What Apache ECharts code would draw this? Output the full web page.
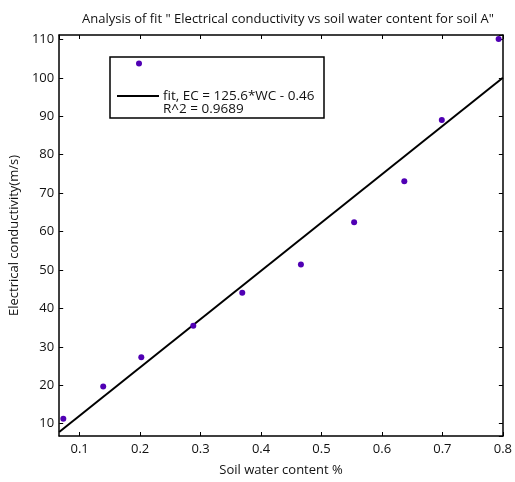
<!DOCTYPE html>
<html>
<head>
<meta charset="utf-8">
<script src="https://cdn.jsdelivr.net/npm/echarts@6/dist/echarts.min.js"></script>
<style>html,body{margin:0;padding:0;background:#fff}#c{width:515px;height:482px}</style>
</head>
<body>
<div id="c"></div>
<script>
// Data
const waterContent = [0.073, 0.139, 0.202, 0.288, 0.369, 0.466, 0.554, 0.637, 0.699, 0.793];
const conductivity = [11.3, 19.7, 27.3, 35.5, 44.1, 51.4, 62.4, 73.1, 89.0, 110.1];
const fitSlope = 125.6;
const fitIntercept = -0.46;
const xRange = [0.0662, 0.8];
const yRange = [6.8, 111.15];
const xTickLabels = ['0.1', '0.2', '0.3', '0.4', '0.5', '0.6', '0.7', '0.8'];
const yTickLabels = ['10', '20', '30', '40', '50', '60', '70', '80', '90', '100', '110'];
const titleText = 'Analysis of fit " Electrical conductivity vs soil water content for soil A"';
const legendFit = 'fit, EC = 125.6*WC - 0.46';
const legendR2 = 'R^2 = 0.9689';

const FONT = 'Open Sans';
const scatterData = waterContent.map((w, i) => [w, conductivity[i]]);
const fitData = xRange.map(x => [x, fitSlope * x + fitIntercept]);

function fmtX(v) {
  const s = (Math.round(v * 10) / 10).toFixed(1);
  return (Math.abs(v * 10 - Math.round(v * 10)) < 1e-6 && xTickLabels.includes(s)) ? s : '';
}
function fmtY(v) {
  const s = String(Math.round(v));
  return (Math.abs(v - Math.round(v)) < 1e-6 && yTickLabels.includes(s)) ? s : '';
}

const chart = echarts.init(document.getElementById('c'), null, {renderer: 'canvas'});
const axisLine = {show: true, lineStyle: {color: '#000', width: 1.5}};
const tick = {show: true, inside: true, length: 4, lineStyle: {color: '#000', width: 1}};
chart.setOption({
  animation: false,
  backgroundColor: '#fff',
  title: {
    text: titleText, left: 283, top: 8, textAlign: 'center',
    textStyle: {fontFamily: FONT, fontSize: 13, fontWeight: 'normal', color: '#111'}
  },
  grid: {left: 58, right: 7, top: 35, bottom: 39},
  xAxis: [{
    type: 'value', min: xRange[0], max: xRange[1], splitNumber: 7, position: 'bottom',
    axisLine, axisTick: tick, splitLine: {show: false},
    axisLabel: {formatter: fmtX, showMinLabel: false, margin: 7, fontFamily: FONT, fontSize: 13, color: '#111'},
    name: 'Soil water content %', nameLocation: 'middle', nameGap: 28,
    nameTextStyle: {fontFamily: FONT, fontSize: 13, color: '#111'}
  }, {
    type: 'value', min: xRange[0], max: xRange[1], splitNumber: 7, position: 'top',
    axisLine, axisTick: tick, axisLabel: {show: false}, splitLine: {show: false}
  }],
  yAxis: [{
    type: 'value', min: yRange[0], max: yRange[1], splitNumber: 10, position: 'left',
    axisLine, axisTick: tick, splitLine: {show: false},
    axisLabel: {formatter: fmtY, showMinLabel: false, showMaxLabel: false, margin: 5, fontFamily: FONT, fontSize: 13, color: '#111'},
    name: 'Electrical conductivity(m/s)', nameLocation: 'middle', nameGap: 34,
    nameTextStyle: {fontFamily: FONT, fontSize: 13, color: '#111'}
  }, {
    type: 'value', min: yRange[0], max: yRange[1], splitNumber: 10, position: 'right',
    axisLine, axisTick: tick, axisLabel: {show: false}, splitLine: {show: false}
  }],
  series: [{
    type: 'scatter', data: scatterData, symbol: 'circle', symbolSize: 6,
    itemStyle: {color: '#5000b4', opacity: 1}, z: 3
  }, {
    type: 'line', data: fitData, showSymbol: false, symbol: 'none',
    lineStyle: {color: '#000', width: 2}, z: 2
  }],
  graphic: [
    {type: 'rect', shape: {x: 110, y: 57, width: 214, height: 61},
     style: {fill: '#fff', stroke: '#000', lineWidth: 1.5}, z: 10},
    {type: 'circle', shape: {cx: 139, cy: 63.5, r: 3}, style: {fill: '#5000b4'}, z: 11},
    {type: 'line', shape: {x1: 117, y1: 96, x2: 159, y2: 96}, style: {stroke: '#000', lineWidth: 2}, z: 11},
    {type: 'text', x: 163, y: 96, style: {text: legendFit, fontFamily: FONT, fontSize: 13.5, fill: '#111', verticalAlign: 'middle'}, z: 11},
    {type: 'text', x: 163, y: 109, style: {text: legendR2, fontFamily: FONT, fontSize: 13.5, fill: '#111', verticalAlign: 'middle'}, z: 11}
  ]
});
</script>
</body>
</html>
